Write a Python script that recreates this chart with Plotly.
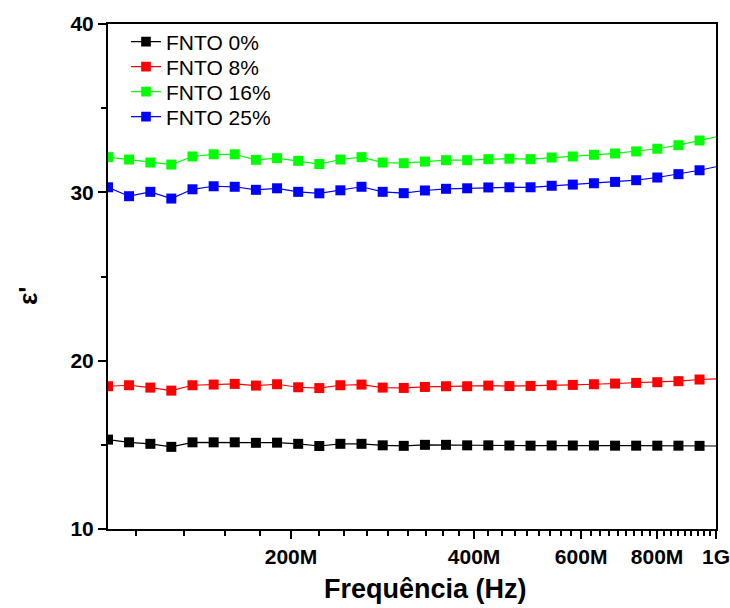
import plotly.graph_objects as go

# Frequency of each plotted point (MHz); last point is the end of the sweep (no marker)
freq_mhz = [100.0, 108.3, 117.4, 127.1, 137.7, 149.2, 161.6, 175.1, 189.7, 205.5,
            222.6, 241.1, 261.2, 283.0, 306.5, 332.1, 359.7, 389.7, 422.2, 457.3,
            495.4, 536.7, 581.4, 629.8, 682.3, 739.1, 800.7, 867.4, 939.6, 1000.0]

eps_0 = [15.31, 15.15, 15.06, 14.88, 15.15, 15.15, 15.15, 15.12, 15.13, 15.06,
         14.93, 15.06, 15.06, 14.97, 14.94, 15.00, 15.00, 14.97, 14.97, 14.96,
         14.95, 14.96, 14.96, 14.96, 14.95, 14.95, 14.95, 14.95, 14.94, 14.93]
eps_8 = [18.48, 18.54, 18.40, 18.22, 18.54, 18.58, 18.62, 18.52, 18.60, 18.42,
         18.37, 18.54, 18.58, 18.40, 18.38, 18.44, 18.48, 18.48, 18.52, 18.49,
         18.50, 18.54, 18.56, 18.60, 18.64, 18.68, 18.72, 18.78, 18.88, 18.92]
eps_16 = [32.09, 31.95, 31.77, 31.65, 32.13, 32.26, 32.26, 31.93, 32.03, 31.87,
          31.68, 31.95, 32.09, 31.77, 31.73, 31.83, 31.91, 31.91, 31.97, 32.00,
          31.97, 32.07, 32.13, 32.23, 32.31, 32.43, 32.59, 32.80, 33.08, 33.30]
eps_25 = [30.30, 29.77, 30.03, 29.63, 30.18, 30.36, 30.33, 30.15, 30.24, 30.03,
          29.94, 30.12, 30.33, 30.03, 29.95, 30.11, 30.21, 30.24, 30.29, 30.30,
          30.30, 30.39, 30.46, 30.54, 30.62, 30.72, 30.88, 31.08, 31.31, 31.52]

series_names = ["FNTO 0%", "FNTO 8%", "FNTO 16%", "FNTO 25%"]
series_vals = [eps_0, eps_8, eps_16, eps_25]
series_colors = ["#000000", "#FF0000", "#00FF00", "#0000FF"]

x_tick_vals_mhz = [200, 400, 600, 800, 1000]
x_tick_text = ["200M", "400M", "600M", "800M", "1G"]
y_tick_vals = [10, 20, 30, 40]
x_title = "Frequência (Hz)"
y_title = "ε'"

FONT = "Arial, Liberation Sans, sans-serif"

W, H = 730, 608
ML, MR, MT, MB = 108, 14, 24, 79
plot_w = W - ML - MR
plot_h = H - MT - MB


def px_to_paper(px, py):
    return (px - ML) / plot_w, 1 - (py - MT) / plot_h


x_hz = [f * 1e6 for f in freq_mhz]
n_marked = len(freq_mhz) - 1
msizes = [10] * n_marked + [0]

legend_ids = ["legend", "legend2", "legend3", "legend4"]
legend_rows_px = [42, 67, 92, 117]   # vertical centre of each legend row (pixels)

fig = go.Figure()
for name, vals, col, lid in zip(series_names, series_vals, series_colors, legend_ids):
    fig.add_trace(go.Scatter(
        x=x_hz, y=vals, name=name, mode="lines+markers", legend=lid,
        line=dict(color=col, width=1.2),
        marker=dict(symbol="square", size=msizes, color=col, opacity=1,
                    line=dict(width=0)),
    ))

# minor ticks: 8 minor ticks between each 200M major
minor_x = []
step = 200e6 / 9
for k in range(-1, 5):
    base = 200e6 + k * 200e6
    for j in range(1, 9):
        v = base + j * step
        if 1e8 < v < 1e9:
            minor_x.append(v)

legend_layouts = {}
for lid, py in zip(legend_ids, legend_rows_px):
    legend_layouts[lid] = dict(
        x=0.0296, y=1 - (py - MT) / plot_h, xanchor="left", yanchor="middle",
        font=dict(family=FONT, size=21, color="black"),
        bgcolor="rgba(0,0,0,0)", borderwidth=0,
    )

xt_x, xt_y = px_to_paper(425, 589)
yt_x, yt_y = px_to_paper(28, 296)

fig.update_layout(
    width=W, height=H,
    margin=dict(l=ML, r=MR, t=MT, b=MB),
    plot_bgcolor="white", paper_bgcolor="white",
    showlegend=True,
    **legend_layouts,
    xaxis=dict(
        type="log", range=[8, 9], automargin=False,
        tickvals=[v * 1e6 for v in x_tick_vals_mhz], ticktext=x_tick_text,
        ticklabeloverflow="allow",
        ticks="outside", ticklen=8, tickwidth=2, tickcolor="black",
        showline=True, linewidth=2, linecolor="black", mirror=True,
        showgrid=False, zeroline=False,
        tickfont=dict(family=FONT, size=21, color="black", weight="bold"),
        minor=dict(tickvals=minor_x, ticks="outside", ticklen=5, tickwidth=2,
                   tickcolor="black", showgrid=False),
    ),
    yaxis=dict(
        range=[10, 40], tickvals=y_tick_vals, automargin=False,
        ticks="outside", ticklen=8, tickwidth=2, tickcolor="black",
        showline=True, linewidth=2, linecolor="black", mirror=True,
        showgrid=False, zeroline=False,
        tickfont=dict(family=FONT, size=21, color="black", weight="bold"),
        minor=dict(dtick=5, tick0=10, ticks="outside", ticklen=5, tickwidth=2,
                   tickcolor="black", showgrid=False),
    ),
    annotations=[
        dict(text=x_title, xref="paper", yref="paper", x=xt_x, y=xt_y,
             xanchor="center", yanchor="middle", showarrow=False,
             font=dict(family=FONT, size=27, color="black", weight="bold")),
        dict(text=y_title, xref="paper", yref="paper", x=yt_x, y=yt_y,
             xanchor="center", yanchor="middle", showarrow=False, textangle=-90,
             font=dict(family=FONT, size=26, color="black", weight="bold")),
    ],
)

fig.write_html("out.html",
               config={"displayModeBar": False},
               post_script="document.body.style.margin='0';document.body.style.overflow='hidden';")
